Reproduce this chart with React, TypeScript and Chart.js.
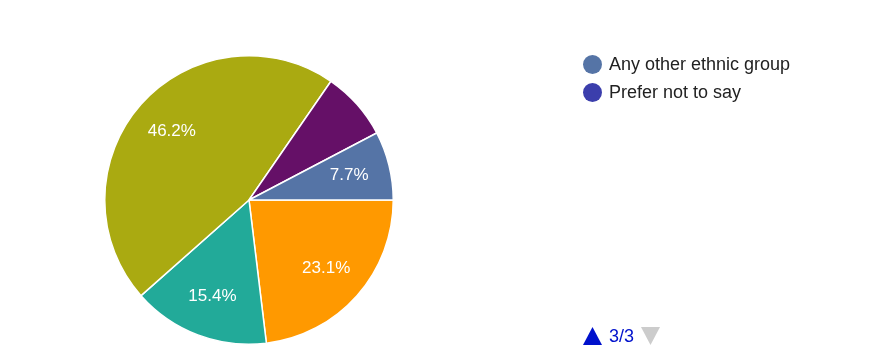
import React, { useEffect, useRef } from "react";
import { Chart, registerables } from "chart.js";

Chart.register(...registerables);

const categories = [
  "English, Welsh, Scottish, Northern Irish or British",
  "Irish",
  "Gypsy or Irish Traveller",
  "Roma",
  "Any other White background",
  "White and Black Caribbean",
  "White and Black African",
  "White and Asian",
  "Any other Mixed or Multiple ethnic background",
  "Indian",
  "Pakistani",
  "Bangladeshi",
  "Chinese",
  "Any other Asian background",
  "African",
  "Caribbean",
  "Any other Black, African or Caribbean background",
  "Arab",
  "Any other ethnic group",
  "Prefer not to say",
];
const counts = [0, 0, 3, 0, 0, 0, 0, 0, 0, 0, 0, 2, 6, 0, 0, 0, 1, 0, 1, 0];
const palette = [
  "#3366cc", "#dc3912", "#ff9900", "#109618", "#990099", "#0099c6", "#dd4477",
  "#66aa00", "#b82e2e", "#316395", "#994499", "#22aa99", "#aaaa11", "#6633cc",
  "#e67300", "#8b0707", "#651067", "#329262", "#5574a6", "#3b3eac",
];
const unlabelled = ["Any other Black, African or Caribbean background"];
const legendPage = [18, 19];
const pageText = "3/3";

const FONT = "'Liberation Sans', Arial, sans-serif";

const labelPlugin = {
  id: "sliceLabels",
  afterDatasetsDraw(chart: any) {
    const ctx = chart.ctx;
    const meta = chart.getDatasetMeta(0);
    const total = counts.reduce((a, b) => a + b, 0);
    ctx.save();
    ctx.fillStyle = "#ffffff";
    ctx.font = `17px ${FONT}`;
    ctx.textAlign = "center";
    ctx.textBaseline = "middle";
    meta.data.forEach((arc: any, i: number) => {
      if (!counts[i] || unlabelled.includes(categories[i])) return;
      const { x, y, startAngle, endAngle, outerRadius } = arc.getProps(
        ["x", "y", "startAngle", "endAngle", "outerRadius"],
        true
      );
      const mid = (startAngle + endAngle) / 2;
      const r = outerRadius * 0.715;
      const pct = ((counts[i] / total) * 100).toFixed(1) + "%";
      ctx.fillText(pct, x + Math.cos(mid) * r, y + Math.sin(mid) * r);
    });
    ctx.restore();
  },
};

export default function App() {
  const ref = useRef<HTMLCanvasElement>(null);
  useEffect(() => {
    const chart = new Chart(ref.current!, {
      type: "pie",
      data: {
        labels: categories,
        datasets: [
          {
            data: counts,
            backgroundColor: palette,
            borderColor: "#ffffff",
            borderWidth: 1.5,
          },
        ],
      },
      options: {
        animation: false,
        responsive: true,
        maintainAspectRatio: false,
        rotation: 90,
        layout: { padding: { left: 104, top: 55, right: 497, bottom: 13 } },
        plugins: { legend: { display: false }, tooltip: { enabled: false } },
      },
      plugins: [labelPlugin],
    });
    return () => chart.destroy();
  }, []);

  return (
    <div
      style={{
        position: "fixed",
        left: 0,
        top: 0,
        width: 891,
        height: 358,
        background: "#ffffff",
        fontFamily: FONT,
      }}
    >
      <canvas ref={ref} style={{ position: "absolute", left: 0, top: 0 }} />
      {legendPage.map((idx, row) => (
        <div
          key={idx}
          style={{
            position: "absolute",
            left: 583,
            top: 64 + row * 28 - 11,
            height: 22,
            display: "flex",
            alignItems: "center",
            whiteSpace: "nowrap",
          }}
        >
          <span
            style={{
              width: 19,
              height: 19,
              borderRadius: "50%",
              background: palette[idx],
              display: "inline-block",
            }}
          />
          <span style={{ marginLeft: 7, fontSize: 18, color: "#222222", lineHeight: "22px" }}>
            {categories[idx]}
          </span>
        </div>
      ))}
      <div
        style={{
          position: "absolute",
          left: 583,
          top: 325,
          height: 22,
          display: "flex",
          alignItems: "center",
        }}
      >
        <svg width="19" height="18" viewBox="0 0 19 18">
          <polygon points="9.5,0 19,18 0,18" fill="#0011cc" />
        </svg>
        <span style={{ marginLeft: 7, marginRight: 7, fontSize: 18, color: "#0011cc", lineHeight: "22px" }}>
          {pageText}
        </span>
        <svg width="19" height="18" viewBox="0 0 19 18">
          <polygon points="0,0 19,0 9.5,18" fill="#cccccc" />
        </svg>
      </div>
    </div>
  );
}
